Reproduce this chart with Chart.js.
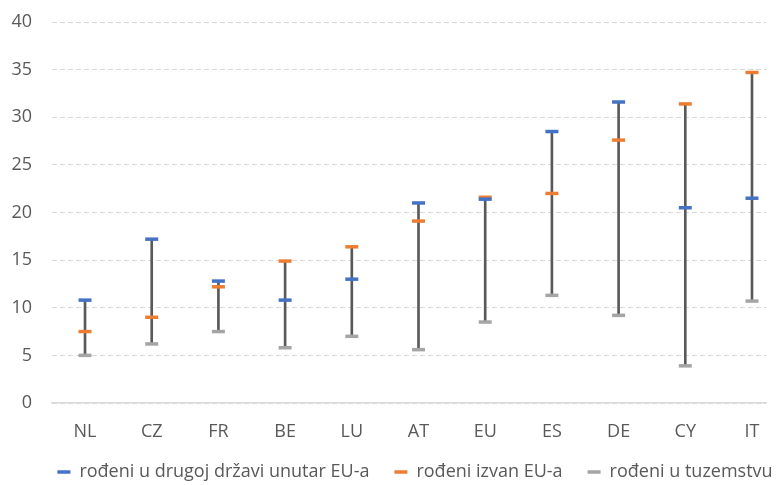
<!DOCTYPE html>
<html>
<head>
<meta charset="utf-8">
<script src="https://cdn.jsdelivr.net/npm/chart.js@4/dist/chart.umd.min.js"></script>
<style>
  html, body { margin: 0; padding: 0; background: #ffffff; }
  #wrap { width: 776px; height: 485px; position: relative; overflow: hidden; }
</style>
</head>
<body>
<div id="wrap"><canvas id="c" width="776" height="485"></canvas></div>
<script>
const categories = ['NL', 'CZ', 'FR', 'BE', 'LU', 'AT', 'EU', 'ES', 'DE', 'CY', 'IT'];
const seriesNames = ['rođeni u drugoj državi unutar EU-a', 'rođeni izvan EU-a', 'rođeni u tuzemstvu'];
const bornOtherEU = [10.8, 17.2, 12.8, 10.8, 13.0, 21.0, 21.4, 28.5, 31.6, 20.5, 21.5];
const bornOutsideEU = [7.5, 9.0, 12.2, 14.9, 16.4, 19.1, 21.6, 22.0, 27.6, 31.4, 34.7];
const bornNative = [5.0, 6.2, 7.5, 5.8, 7.0, 5.6, 8.5, 11.3, 9.2, 3.9, 10.7];
const yTicks = [0, 5, 10, 15, 20, 25, 30, 35, 40];

const colors = ['#4472C4', '#ED7D31', '#A5A5A5'];
const FONT = '"Open Sans", sans-serif';

const toPts = arr => arr.map((v, i) => ({ x: i, y: v }));
const ranges = categories.map((c, i) => {
  const vals = [bornOtherEU[i], bornOutsideEU[i], bornNative[i]];
  return { x: i, y: [Math.min(...vals), Math.max(...vals)] };
});

const markerDs = (label, data, color) => ({
  type: 'scatter',
  label: label,
  data: toPts(data),
  pointStyle: 'line',
  pointRadius: 6.5,
  pointHoverRadius: 6.5,
  pointBorderWidth: 3.5,
  pointBorderColor: color,
  pointBackgroundColor: color,
  borderColor: color,
  backgroundColor: color,
  showLine: false,
  order: 1
});

new Chart(document.getElementById('c'), {
  type: 'bar',
  data: {
    datasets: [
      markerDs(seriesNames[0], bornOtherEU, colors[0]),
      markerDs(seriesNames[1], bornOutsideEU, colors[1]),
      markerDs(seriesNames[2], bornNative, colors[2]),
      {
        type: 'bar',
        label: 'range',
        data: ranges,
        backgroundColor: '#595959',
        borderWidth: 0,
        barThickness: 2,
        order: 10
      }
    ]
  },
  options: {
    responsive: false,
    animation: false,
    devicePixelRatio: 1,
    layout: { padding: { top: 0, left: 0, right: -54, bottom: 0 } },
    plugins: {
      tooltip: { enabled: false },
      legend: {
        position: 'bottom',
        maxHeight: 47,
        labels: {
          usePointStyle: true,
          pointStyleWidth: 13,
          boxHeight: 6,
          color: '#595959',
          font: { family: FONT, size: 18 },
          padding: 25,
          filter: item => item.text !== 'range'
        }
      }
    },
    scales: {
      x: {
        type: 'linear',
        offset: false,
        min: -0.495,
        max: 10.21,
        afterBuildTicks: axis => { axis.ticks = categories.map((c, i) => ({ value: i })); },
        afterFit: axis => { axis.height = 35; axis.paddingLeft = 0; axis.paddingRight = 0; },
        ticks: {
          callback: v => categories[v],
          color: '#595959',
          font: { family: FONT, size: 18 },
          padding: 10,
          maxRotation: 0,
          autoSkip: false
        },
        grid: { display: false },
        border: { display: true, color: '#d9d9d9', width: 1.5 }
      },
      y: {
        min: 0,
        max: 40,
        afterBuildTicks: axis => { axis.ticks = yTicks.map(v => ({ value: v })); },
        afterFit: axis => { axis.width = 52; axis.paddingTop = 22; axis.paddingBottom = 0; },
        ticks: {
          color: '#595959',
          font: { family: FONT, size: 18 },
          padding: 20
        },
        grid: { color: '#d9d9d9', lineWidth: 1, drawTicks: false },
        border: { display: false, dash: [5, 3] }
      }
    }
  }
});
</script>
</body>
</html>
